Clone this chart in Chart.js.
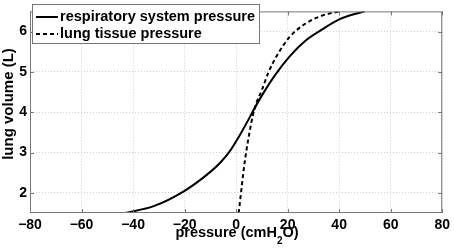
<!DOCTYPE html>
<html>
<head>
<meta charset="utf-8">
<script src="https://cdn.jsdelivr.net/npm/chart.js@4"></script>
<style>
  html, body { margin: 0; padding: 0; background: #fff; }
  #wrap { width: 454px; height: 250px; }
</style>
</head>
<body>
<div id="wrap"><canvas id="chart-pv"></canvas></div>
<script>
// pressure (cmH2O) / volume (L)
const respPressure = [-43, -32, -20, -10, -6, -2.5, 2.5, 8.5, 14.9, 20.7, 27, 33.6, 40, 44, 50];
const respVolume   = [1.5, 1.67, 2.05, 2.52, 2.76, 3.03, 3.55, 4.25, 4.9, 5.38, 5.78, 6.06, 6.3, 6.4, 6.5];
const tissuePressure = [1, 2, 3, 4, 5.2, 6.5, 8, 10, 12.5, 16, 20.7, 27, 33.6, 40];
const tissueVolume   = [1.5, 2.05, 2.6, 3.05, 3.5, 3.92, 4.25, 4.55, 4.98, 5.42, 5.86, 6.2, 6.4, 6.5];
const xTicks = [-80, -60, -40, -20, 0, 20, 40, 60, 80];
const yTicks = [2, 3, 4, 5, 6];
const seriesLabels = ['respiratory system pressure', 'lung tissue pressure'];

const FONT = '"Liberation Sans", Arial, Helvetica, sans-serif';
const AXIS_COLOR = '#777';

const toPoints = (xs, ys) => xs.map((x, i) => ({ x, y: ys[i] }));
const fmtTick = v => (v < 0 ? '\u2212' + Math.abs(v) : String(v));

// MATLAB-style box with inward ticks, legend and axis labels
const matlabDecor = {
  id: 'matlabDecor',
  afterDatasetsDraw(chart) {
    const { ctx, chartArea: a, scales } = chart;
    ctx.save();
    ctx.strokeStyle = AXIS_COLOR;
    ctx.lineWidth = 1;
    ctx.setLineDash([]);
    ctx.strokeRect(a.left + 0.5, a.top + 0.5, a.right - a.left - 1, a.bottom - a.top - 1);
    ctx.beginPath();
    xTicks.forEach(v => {
      const px = Math.round(scales.x.getPixelForValue(v)) + 0.5;
      ctx.moveTo(px, a.bottom); ctx.lineTo(px, a.bottom - 4);
      ctx.moveTo(px, a.top); ctx.lineTo(px, a.top + 4);
    });
    yTicks.forEach(v => {
      const py = Math.round(scales.y.getPixelForValue(v)) + 0.5;
      ctx.moveTo(a.left, py); ctx.lineTo(a.left + 4, py);
      ctx.moveTo(a.right, py); ctx.lineTo(a.right - 4, py);
    });
    ctx.stroke();

    // legend
    ctx.fillStyle = '#fff';
    ctx.fillRect(32, 4, 227, 39);
    ctx.strokeStyle = AXIS_COLOR;
    ctx.strokeRect(32.5, 4.5, 227, 39);
    ctx.font = 'bold 14.5px ' + FONT;
    ctx.textBaseline = 'middle';
    ctx.fillStyle = '#000';
    chart.data.datasets.forEach((ds, i) => {
      const y = 17 + i * 17;
      ctx.strokeStyle = '#000';
      ctx.lineWidth = 2;
      ctx.setLineDash(ds.borderDash || []);
      ctx.beginPath();
      ctx.moveTo(36, y); ctx.lineTo(58, y);
      ctx.stroke();
      ctx.fillText(ds.label, 60, y);
    });
    ctx.setLineDash([]);

    // y label
    ctx.save();
    ctx.translate(9, 104);
    ctx.rotate(-Math.PI / 2);
    ctx.textAlign = 'center';
    ctx.font = 'bold 15px ' + FONT;
    ctx.fillText('lung volume (L)', 0, 0);
    ctx.restore();

    // x label with subscript
    const big = 'bold 14.5px ' + FONT, small = 'bold 10px ' + FONT;
    const p1 = 'pressure (cmH', p2 = '2', p3 = 'O)';
    ctx.textBaseline = 'alphabetic';
    ctx.textAlign = 'left';
    ctx.font = big;
    const w1 = ctx.measureText(p1).width, w3 = ctx.measureText(p3).width;
    ctx.font = small;
    const w2 = ctx.measureText(p2).width;
    let x = 237 - (w1 + w2 + w3) / 2;
    const base = 237;
    ctx.font = big; ctx.fillText(p1, x, base); x += w1;
    ctx.font = small; ctx.fillText(p2, x, base + 7); x += w2;
    ctx.font = big; ctx.fillText(p3, x, base);
    ctx.restore();
  }
};

new Chart(document.getElementById('chart-pv'), {
  type: 'scatter',
  data: {
    datasets: [
      {
        label: seriesLabels[0],
        data: toPoints(respPressure, respVolume),
        showLine: true,
        borderColor: '#000',
        borderWidth: 2,
        pointRadius: 0,
        cubicInterpolationMode: 'monotone',
      },
      {
        label: seriesLabels[1],
        data: toPoints(tissuePressure, tissueVolume),
        showLine: true,
        borderColor: '#000',
        borderWidth: 2,
        borderDash: [4, 3],
        pointRadius: 0,
        cubicInterpolationMode: 'monotone',
      },
    ],
  },
  options: {
    responsive: true,
    maintainAspectRatio: false,
    animation: false,
    layout: { padding: { top: 3, right: 11, left: 0, bottom: 0 } },
    plugins: { legend: { display: false }, tooltip: { enabled: false } },
    scales: {
      x: {
        type: 'linear',
        min: -80,
        max: 80,
        afterBuildTicks: s => { s.ticks = xTicks.map(v => ({ value: v })); },
        afterFit: s => { s.height = 37; },
        grid: { color: '#cfcfcf', drawTicks: false },
        border: { display: false, dash: [1, 2] },
        ticks: {
          color: '#000',
          padding: 4,
          maxRotation: 0,
          font: { family: FONT, size: 14, weight: 'bold' },
          callback: fmtTick,
        },
      },
      y: {
        type: 'linear',
        min: 1.5,
        max: 6.5,
        afterBuildTicks: s => { s.ticks = yTicks.map(v => ({ value: v })); },
        afterFit: s => { s.width = 30; },
        grid: { color: '#cfcfcf', drawTicks: false },
        border: { display: false, dash: [1, 2] },
        ticks: {
          color: '#000',
          padding: 3,
          font: { family: FONT, size: 14, weight: 'bold' },
          callback: fmtTick,
        },
      },
    },
  },
  plugins: [matlabDecor],
});
</script>
</body>
</html>
